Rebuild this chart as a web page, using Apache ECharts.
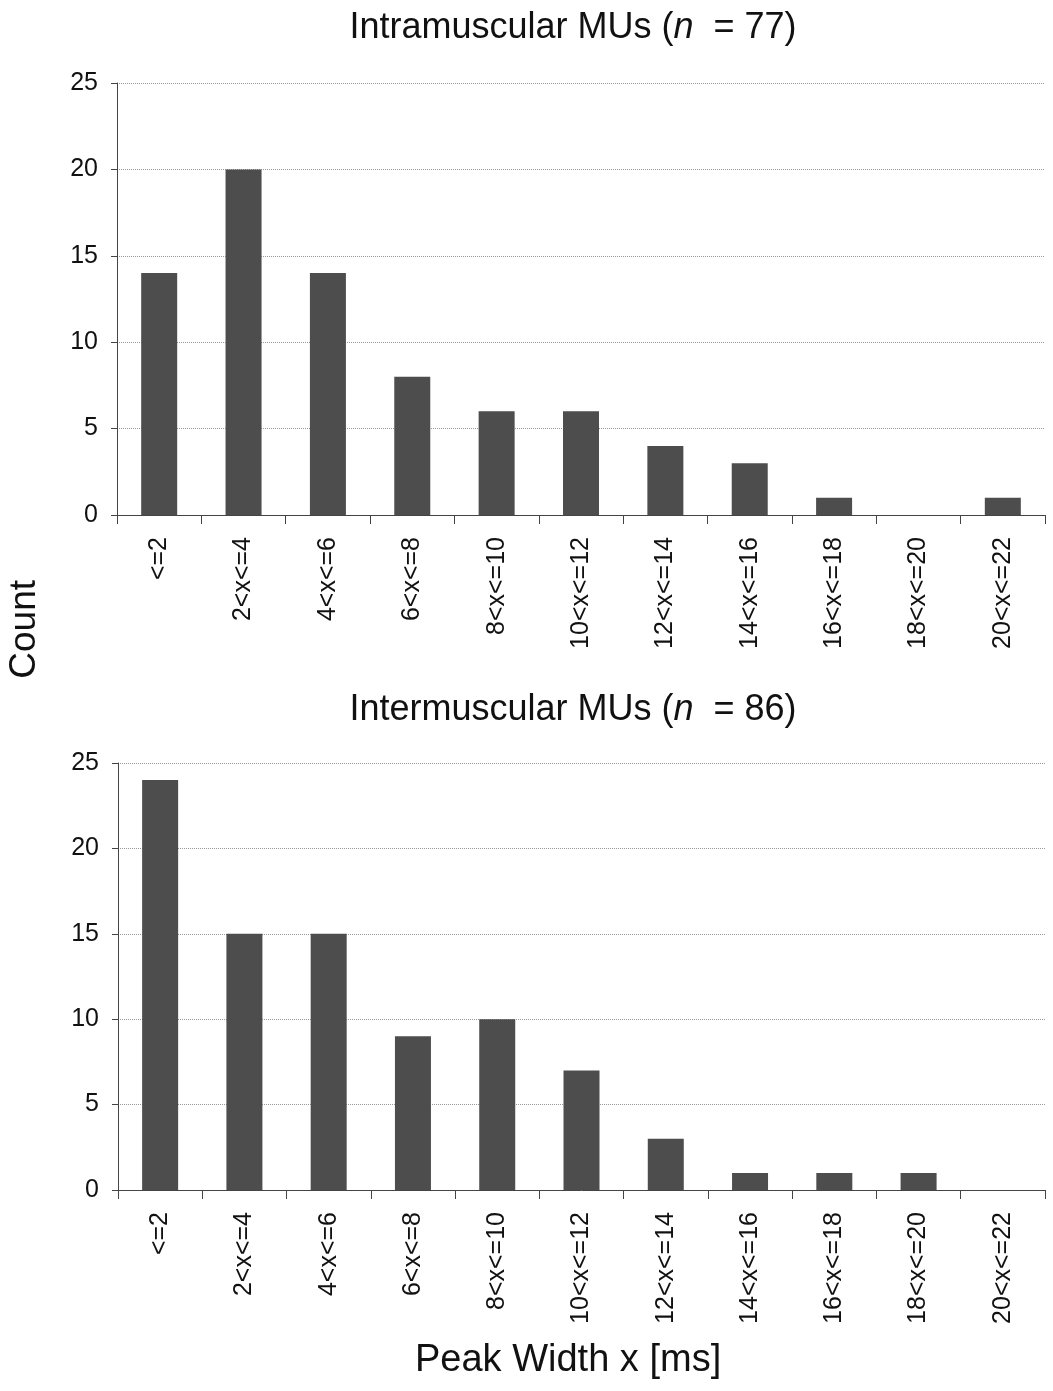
<!DOCTYPE html>
<html>
<head>
<meta charset="utf-8">
<script src="https://cdn.jsdelivr.net/npm/echarts@6/dist/echarts.min.js"></script>
<style>
  html, body { margin: 0; padding: 0; background: #fff; }
  #chart { width: 1053px; height: 1391px; }
</style>
</head>
<body>
<div id="chart"></div>
<script>
// peak width bins
var categories = ["<=2", "2<x<=4", "4<x<=6", "6<x<=8", "8<x<=10", "10<x<=12",
  "12<x<=14", "14<x<=16", "16<x<=18", "18<x<=20", "20<x<=22"];
var intraCounts = [14, 20, 14, 8, 6, 6, 4, 3, 1, 0, 1];
var interCounts = [24, 15, 15, 9, 10, 7, 3, 1, 1, 1, 0];
var yTicks = [0, 5, 10, 15, 20, 25];

var font = "Liberation Sans, Arial, sans-serif";
var chart = echarts.init(document.getElementById("chart"));

function xAxisFor(gridIndex) {
  return {
    type: "category",
    gridIndex: gridIndex,
    data: categories,
    boundaryGap: true,
    axisLine: { lineStyle: { color: "#444", width: 1 } },
    axisTick: { show: true, inside: false, length: 9, lineStyle: { color: "#444" } },
    axisLabel: { rotate: 90, margin: 22, fontSize: 25, color: "#111", fontFamily: font, interval: 0 }
  };
}

function yAxisFor(gridIndex) {
  return {
    type: "value",
    gridIndex: gridIndex,
    min: yTicks[0],
    max: yTicks[yTicks.length - 1],
    interval: 5,
    axisLine: { show: true, lineStyle: { color: "#444", width: 1 } },
    axisTick: { show: true, length: 6, lineStyle: { color: "#444" } },
    axisLabel: { fontSize: 25, color: "#111", fontFamily: font, margin: 19 },
    splitLine: { show: true, lineStyle: { color: "#999", type: "dotted", width: 1 } }
  };
}

function titleFor(n, label, top) {
  return {
    text: "{t|" + label + " MUs (}{i|n}{t|  = " + n + ")}",
    left: 568,
    top: top,
    textAlign: "center",
    textStyle: {
      fontWeight: "normal",
      rich: {
        t: { fontSize: 36, color: "#111", fontFamily: font, fontWeight: "normal" },
        i: { fontSize: 36, color: "#111", fontFamily: font, fontStyle: "italic", fontWeight: "normal" }
      }
    }
  };
}

var barStyle = { color: "#4d4d4d" };

chart.setOption({
  animation: false,
  backgroundColor: "#fff",
  title: [
    titleFor(77, "Intramuscular", 5),
    titleFor(86, "Intermuscular", 687)
  ],
  grid: [
    { left: 117, right: 8, top: 83, height: 432 },
    { left: 118, right: 8, top: 763, height: 427 }
  ],
  xAxis: [xAxisFor(0), xAxisFor(1)],
  yAxis: [yAxisFor(0), yAxisFor(1)],
  series: [
    { type: "bar", xAxisIndex: 0, yAxisIndex: 0, data: intraCounts, barWidth: 36, itemStyle: barStyle },
    { type: "bar", xAxisIndex: 1, yAxisIndex: 1, data: interCounts, barWidth: 36, itemStyle: barStyle }
  ],
  graphic: [
    {
      type: "text",
      left: 6,
      top: 580,
      rotation: Math.PI / 2,
      style: { text: "Count", font: "37px " + font, fill: "#111" }
    },
    {
      type: "text",
      left: 415,
      top: 1342,
      style: { text: "Peak Width x [ms]", font: "38px " + font, fill: "#111" }
    }
  ]
});
</script>
</body>
</html>
